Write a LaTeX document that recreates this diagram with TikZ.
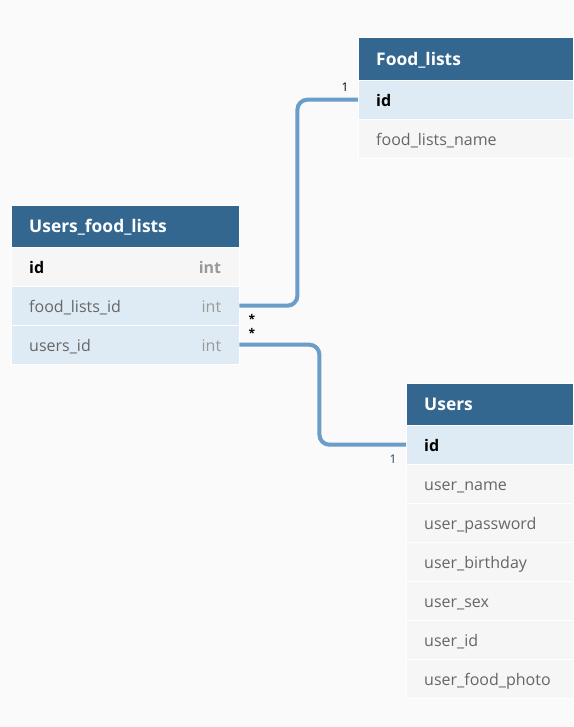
\documentclass[tikz,border=0pt]{standalone}
\usepackage{fontspec}
\setmainfont{Open Sans}
\definecolor{bgc}{HTML}{FAFAFA}
\definecolor{hdrc}{HTML}{34678F}
\definecolor{keyc}{HTML}{DFEBF4}
\definecolor{plainc}{HTML}{F6F6F6}
\definecolor{fieldc}{HTML}{666666}
\definecolor{typec}{HTML}{999999}
\definecolor{connc}{HTML}{6A9DC8}
\definecolor{navy}{HTML}{1F3D6B}
\tikzset{
  tbl/.style={anchor=north west, inner xsep=18pt, inner ysep=0pt, minimum height=39pt,
    text height=15pt, text depth=1pt,
    align=left, font=\fontsize{16}{19}\selectfont, text=fieldc, draw=white, line width=0.4pt},
  hdrrow/.style={tbl, fill=hdrc, text=white, font=\bfseries\fontsize{17.4}{20}\selectfont, minimum height=42pt,
    text height=15pt, text depth=2pt},
  keyrow/.style={tbl, fill=keyc},
  plainrow/.style={tbl, fill=plainc},
  conn/.style={draw=connc, line width=4pt, rounded corners=10pt},
  card/.style={font=\fontsize{12}{14}\selectfont, inner sep=0pt}
}
\newcommand{\pk}[1]{\textcolor{black}{\bfseries #1}}
\newcommand{\ty}[1]{\textcolor{typec}{#1}}
\begin{document}
\begin{tikzpicture}[x=1pt,y=-1pt]
\fill[bgc] (0,0) rectangle (573,727);
\useasboundingbox (0,0) rectangle (573,727);

% Users_food_lists
\node[hdrrow, text width=192pt] (ufl) at (11,205) {Users\_food\_lists};
\node[plainrow, text width=192pt] (ufl-id) at (11,247) {\pk{id}\hfill\ty{\bfseries int}};
\node[keyrow, text width=192pt] (ufl-flid) at (11,286) {food\_lists\_id\hfill\ty{int}};
\node[keyrow, text width=192pt] (ufl-uid) at (11,325) {users\_id\hfill\ty{int}};

% Food_lists
\node[hdrrow, text width=179pt, minimum height=43pt] (fl) at (358,37) {Food\_lists};
\node[keyrow, text width=179pt] (fl-id) at (358,80) {\pk{id}};
\node[plainrow, text width=179pt] (fl-name) at (358,119) {food\_lists\_name};

% Users
\node[hdrrow, text width=131pt] (u) at (406,383) {Users};
\node[keyrow, text width=131pt] (u-id) at (406,425) {\pk{id}};
\node[plainrow, text width=131pt] (u-name) at (406,464) {user\_name};
\node[plainrow, text width=131pt] (u-pw) at (406,503) {user\_password};
\node[plainrow, text width=131pt] (u-bd) at (406,542) {user\_birthday};
\node[plainrow, text width=131pt] (u-sex) at (406,581) {user\_sex};
\node[plainrow, text width=131pt] (u-uid) at (406,620) {user\_id};
\node[plainrow, text width=131pt] (u-photo) at (406,659) {user\_food\_photo};

% connectors
\draw[conn] (ufl-flid.east) -- ++(58,0) |- (fl-id.west);
\draw[conn] (ufl-uid.east) -- ++(80,0) |- (u-id.west);

% cardinalities
\node[card] (c1) at (345,87) {1};
\node[card, font=\bfseries\fontsize{12}{14}\selectfont] (s1) at (252,319) {*};
\node[card, font=\bfseries\fontsize{12}{14}\selectfont] (s2) at (252,333) {*};
\node[card, text=navy] (c2) at (393,459) {1};
\end{tikzpicture}
\end{document}
